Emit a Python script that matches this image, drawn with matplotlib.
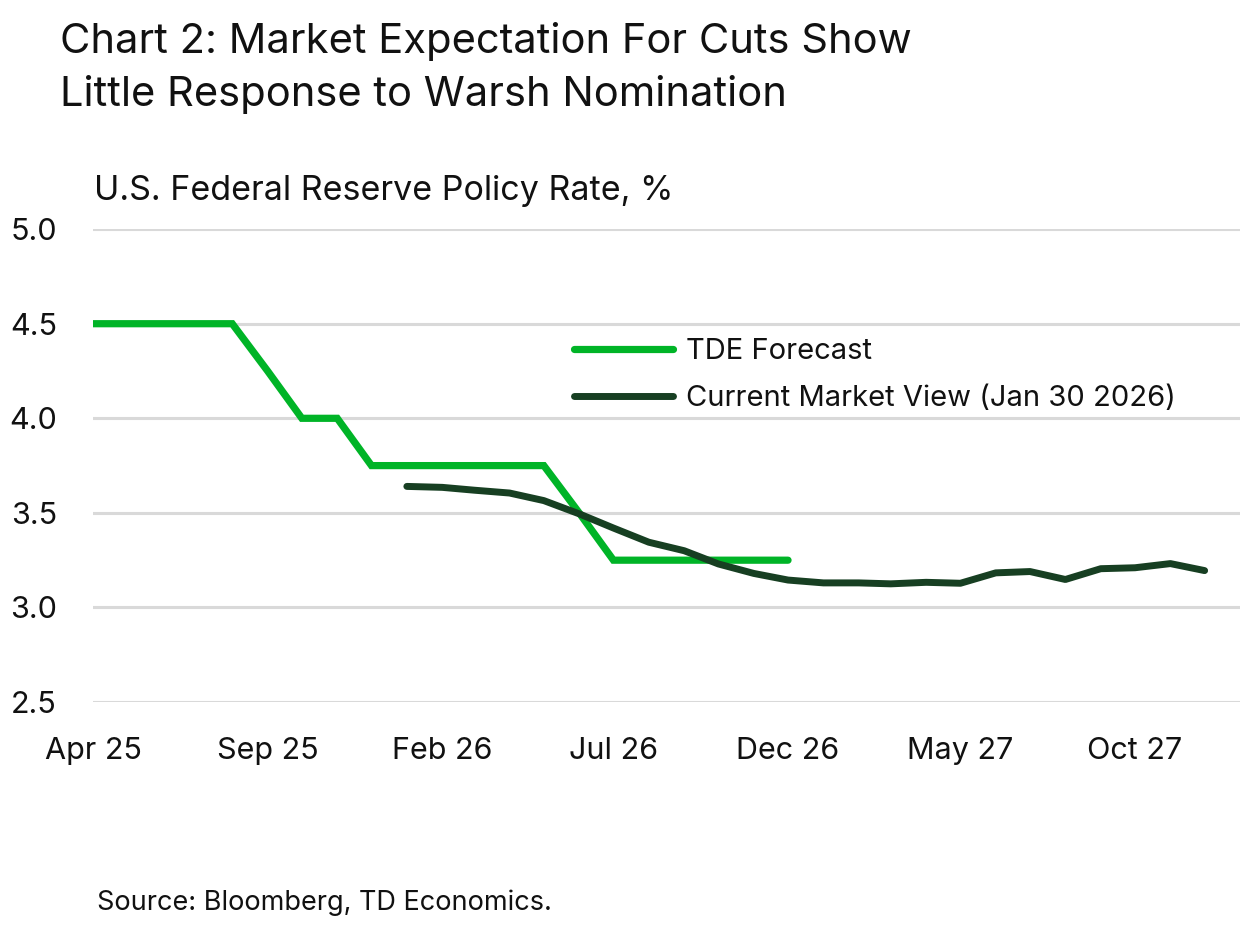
import matplotlib
matplotlib.use("Agg")
import matplotlib.pyplot as plt
import matplotlib.dates as mdates
import pandas as pd

plt.rcParams['font.family'] = ['Inter', 'DejaVu Sans']

# TDE forecast, monthly Apr 2025 - Dec 2026
tde_dates = pd.date_range('2025-04-01', '2026-12-01', freq='MS')
tde_rate = [4.50, 4.50, 4.50, 4.50, 4.50, 4.25, 4.00, 4.00, 3.75,
            3.75, 3.75, 3.75, 3.75, 3.75, 3.50, 3.25, 3.25, 3.25,
            3.25, 3.25, 3.25]

# market implied path (Jan 30 2026), monthly Jan 2026 - Dec 2027
mkt_dates = pd.date_range('2026-01-01', '2027-12-01', freq='MS')
mkt_rate = [3.640, 3.635, 3.620, 3.605, 3.565, 3.495, 3.420, 3.345,
            3.300, 3.230, 3.180, 3.145, 3.130, 3.130, 3.125, 3.133,
            3.128, 3.183, 3.190, 3.148, 3.205, 3.210, 3.232, 3.195]

tick_dates = pd.date_range('2025-04-01', '2027-12-01', freq='5MS')
y_ticks = [2.5, 3.0, 3.5, 4.0, 4.5, 5.0]

fig = plt.figure(figsize=(12.4, 9.25), dpi=100)
ax = fig.add_axes([0.075, 0.241, 0.925, 0.5113])

l1, = ax.plot(tde_dates, tde_rate, color='#00B427', lw=5.2,
              solid_capstyle='round', solid_joinstyle='miter', zorder=3)
l2, = ax.plot(mkt_dates, mkt_rate, color='#173F22', lw=5.0,
              solid_capstyle='round', solid_joinstyle='round', zorder=4)

ax.set_xlim(pd.Timestamp('2025-04-01'), pd.Timestamp('2028-01-01'))
ax.set_ylim(2.5, 5.0)
ax.set_yticks(y_ticks)
ax.set_yticklabels(['%.1f' % v for v in y_ticks])
ax.set_xticks(tick_dates)
ax.xaxis.set_major_formatter(mdates.DateFormatter('%b %y'))

ax.grid(axis='y', color='#D9D9D9', lw=2.2, zorder=0)
ax.set_axisbelow(True)
for s in ax.spines.values():
    s.set_visible(False)
ax.tick_params(axis='both', length=0, labelsize=22, colors='#111111')
ax.tick_params(axis='y', pad=26)
ax.tick_params(axis='x', pad=25)

leg = ax.legend([l1, l2], ['TDE Forecast', 'Current Market View (Jan 30 2026)'],
                loc='center left', bbox_to_anchor=(0.463, 0.5948),
                bbox_transform=fig.transFigure, frameon=False,
                fontsize=21, handlelength=3.4, handletextpad=0.45,
                labelspacing=0.68, borderpad=0, borderaxespad=0)
for t in leg.get_texts():
    t.set_color('#111111')

fig.text(0.048, 0.9427, 'Chart 2: Market Expectation For Cuts Show',
         fontsize=30, va='baseline', ha='left', color='#111111')
fig.text(0.048, 0.8854, 'Little Response to Warsh Nomination',
         fontsize=30, va='baseline', ha='left', color='#111111')
fig.text(0.076, 0.7838, 'U.S. Federal Reserve Policy Rate, %', fontsize=24.5,
         va='baseline', ha='left', color='#111111')
fig.text(0.078, 0.0162, 'Source: Bloomberg, TD Economics.', fontsize=19.5,
         va='baseline', ha='left', color='#111111')

fig.savefig('out.png', dpi=100)
